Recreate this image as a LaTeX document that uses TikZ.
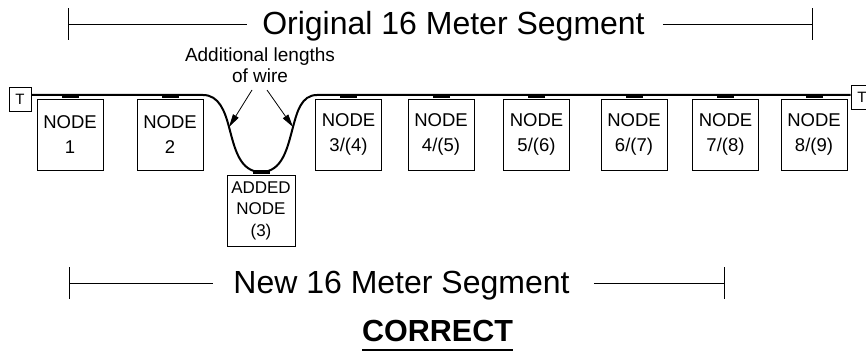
\documentclass[tikz,border=0pt]{standalone}
\usepackage{fontspec}
\setmainfont{Liberation Sans}
\usetikzlibrary{arrows.meta}
\begin{document}
\begin{tikzpicture}[x=1pt,y=-1pt,
  unitbox/.style={draw, line width=0.8pt, minimum width=66pt, minimum height=71pt,
    inner sep=0pt, align=center, font=\fontsize{18.5}{24.5}\selectfont},
  addedbox/.style={unitbox, minimum width=68pt, font=\fontsize{17}{21.5}\selectfont},
  tab/.style={fill=black, minimum width=17pt, minimum height=4pt, inner sep=0pt, anchor=south},
  term/.style={draw, line width=0.8pt, minimum width=22pt, minimum height=24pt,
    inner sep=0pt, font=\fontsize{15}{15}\selectfont},
  wire/.style={line width=2pt},
  dim/.style={line width=0.9pt},
  heading/.style={inner sep=0pt, anchor=base, font=\fontsize{32}{32}\selectfont},
  callout/.style={line width=0.8pt, -{Triangle[length=13pt,width=6.5pt]}}]
\clip (0,0) rectangle (866,352);
\fill[white] (0,0) rectangle (866,352);

% terminators at both ends of the bus
\node[term] (tl) at (20,99) {T};
\node[term] (tr) at (862,97) {T};

% bus nodes
\node[unitbox] (n1) at (70,134.5) {NODE\\1};
\node[unitbox] (n2) at (170,134.5) {NODE\\2};
\node[unitbox] (n3) at (348.5,134.5) {NODE\\3/(4)};
\node[unitbox] (n4) at (441,134.5) {NODE\\4/(5)};
\node[unitbox] (n5) at (536.5,134.5) {NODE\\5/(6)};
\node[unitbox] (n6) at (634,134.5) {NODE\\6/(7)};
\node[unitbox] (n7) at (725.5,134.5) {NODE\\7/(8)};
\node[unitbox] (n8) at (814,134.5) {NODE\\8/(9)};
\node[addedbox] (na) at (261,210.5) {ADDED\\NODE\\(3)};

% bus wire with the extra loop down to the added node
\coordinate (wl) at (203,95);
\coordinate (dl) at (229,127);
\coordinate (bot) at (261,172);
\coordinate (dr) at (293,127);
\coordinate (wr) at (317,95);
\draw[wire] (tl.east |- wl) -- (wl)
  to[out=0,in=105] (dl)
  to[out=-75,in=180] (bot)
  to[out=0,in=-105] (dr)
  to[out=75,in=180] (wr)
  -- (tr.west |- wr);

% drop connectors
\foreach \n in {n1,n2,n3,n4,n5,n6,n7,n8,na}
  \node[tab] at (\n.north) {};

% callout for the added wire (base = last line)
\node[align=center, inner sep=0pt, font=\fontsize{19}{21}\selectfont, anchor=base]
  (ann) at (260,83) {Additional lengths\\of wire};
\coordinate (cl) at (252,90);
\coordinate (cr) at (267,90);
\draw[callout] (cl) -- (dl);
\draw[callout] (cr) -- (dr);

% original segment dimension
\coordinate (o1) at (68,24);
\coordinate (o2) at (812,24);
\node[heading] (otitle) at (453.5,35) {Original 16 Meter Segment};
\draw[dim] (o1) -- ([xshift=-15pt]otitle.west |- o1);
\draw[dim] ([xshift=18pt]otitle.east |- o2) -- (o2);
\draw[dim] ([yshift=-16pt]o1) -- ([yshift=16pt]o1);
\draw[dim] ([yshift=-16pt]o2) -- ([yshift=16pt]o2);

% new segment dimension
\coordinate (s1) at (69,283);
\coordinate (s2) at (724,283);
\node[heading] (ntitle) at (401.5,293) {New 16 Meter Segment};
\draw[dim] (s1) -- ([xshift=-20pt]ntitle.west |- s1);
\draw[dim] ([xshift=24pt]ntitle.east |- s2) -- (s2);
\draw[dim] ([yshift=-15.5pt]s1) -- ([yshift=15.5pt]s1);
\draw[dim] ([yshift=-15.5pt]s2) -- ([yshift=15.5pt]s2);

% verdict
\node[inner sep=0pt, anchor=base west, font=\bfseries\fontsize{30.5}{30.5}\selectfont]
  (cor) at (362,341) {CORRECT};
\draw[line width=1.5pt] ([yshift=-9pt]cor.base west) -- ([yshift=-9pt]cor.base east);
\end{tikzpicture}
\end{document}
